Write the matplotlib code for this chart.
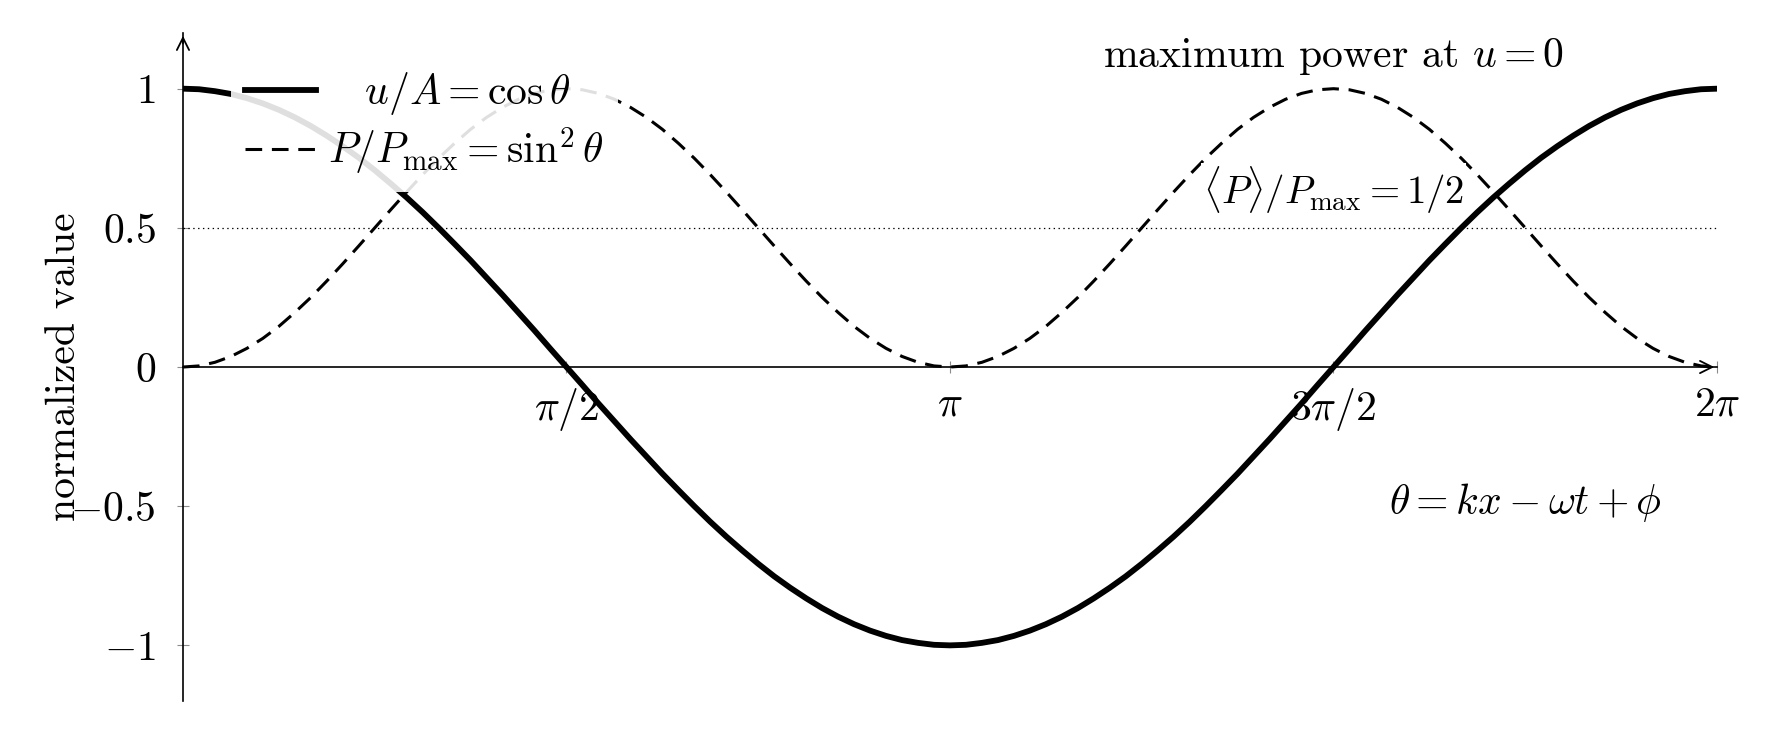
import matplotlib
matplotlib.use("Agg")
import matplotlib.pyplot as plt
import numpy as np

plt.rcParams['font.family'] = 'serif'
plt.rcParams['font.serif'] = ['cmr10']
plt.rcParams['mathtext.fontset'] = 'cm'
plt.rcParams['axes.formatter.use_mathtext'] = True
plt.rcParams['lines.scale_dashes'] = False

# phase samples, one every pi/48 from 0 to 2pi
steps = np.arange(97)
theta = steps * np.pi / 48

u_over_A = [1.000, 0.998, 0.991, 0.981, 0.966, 0.947, 0.924, 0.897, 0.866, 0.831,
            0.793, 0.752, 0.707, 0.659, 0.609, 0.556, 0.500, 0.442, 0.383, 0.321,
            0.259, 0.195, 0.131, 0.065, 0.000,
            -0.065, -0.131, -0.195, -0.259, -0.321, -0.383, -0.442, -0.500, -0.556,
            -0.609, -0.659, -0.707, -0.752, -0.793, -0.831, -0.866, -0.897, -0.924,
            -0.947, -0.966, -0.981, -0.991, -0.998, -1.000,
            -0.998, -0.991, -0.981, -0.966, -0.947, -0.924, -0.897, -0.866, -0.831,
            -0.793, -0.752, -0.707, -0.659, -0.609, -0.556, -0.500, -0.442, -0.383,
            -0.321, -0.259, -0.195, -0.131, -0.065, 0.000,
            0.065, 0.131, 0.195, 0.259, 0.321, 0.383, 0.442, 0.500, 0.556, 0.609,
            0.659, 0.707, 0.752, 0.793, 0.831, 0.866, 0.897, 0.924, 0.947, 0.966,
            0.981, 0.991, 0.998, 1.000]

# P/Pmax
p_over_pmax = [0.000, 0.004, 0.017, 0.038, 0.067, 0.103, 0.146, 0.196, 0.250, 0.309,
               0.371, 0.435, 0.500, 0.565, 0.629, 0.691, 0.750, 0.804, 0.854, 0.897,
               0.933, 0.962, 0.983, 0.996, 1.000,
               0.996, 0.983, 0.962, 0.933, 0.897, 0.854, 0.804, 0.750, 0.691, 0.629,
               0.565, 0.500, 0.435, 0.371, 0.309, 0.250, 0.196, 0.146, 0.103, 0.067,
               0.038, 0.017, 0.004, 0.000,
               0.004, 0.017, 0.038, 0.067, 0.103, 0.146, 0.196, 0.250, 0.309, 0.371,
               0.435, 0.500, 0.565, 0.629, 0.691, 0.750, 0.804, 0.854, 0.897, 0.933,
               0.962, 0.983, 0.996, 1.000,
               0.996, 0.983, 0.962, 0.933, 0.897, 0.854, 0.804, 0.750, 0.691, 0.629,
               0.565, 0.500, 0.435, 0.371, 0.309, 0.250, 0.196, 0.146, 0.103, 0.067,
               0.038, 0.017, 0.004, 0.000]

mean_power = 0.5

xtick_vals = [np.pi / 2, np.pi, 3 * np.pi / 2, 2 * np.pi]
xtick_labels = [r'$\pi/2$', r'$\pi$', r'$3\pi/2$', r'$2\pi$']
ytick_vals = [-1, -0.5, 0, 0.5, 1]
ytick_labels = [r'$-1$', r'$-0.5$', r'$0$', r'$0.5$', r'$1$']

fs = 30

fig = plt.figure(figsize=(17.8, 7.32), dpi=100)
ax = fig.add_axes([0.1028, 0.0423, 0.8618, 0.9126])

ax.plot(theta, u_over_A, color='black', lw=4.2, solid_joinstyle='round',
        zorder=3, label=r'$\quad u/A = \cos\theta\quad$')
ax.plot(theta, p_over_pmax, color='black', lw=2.2, ls=(0, (12, 7)),
        zorder=3, label=r'$P/P_{\max} = \sin^2\theta$')
ax.axhline(mean_power, color='black', lw=0.9, ls=(0, (1, 2.5)), zorder=2)

ax.set_xlim(0, 2 * np.pi)
ax.set_ylim(-1.2, 1.2)

# axis lines through the origin
ax.spines['left'].set_position(('data', 0))
ax.spines['bottom'].set_position(('data', 0))
ax.spines['top'].set_visible(False)
ax.spines['right'].set_visible(False)
ax.spines['left'].set_linewidth(1.2)
ax.spines['bottom'].set_linewidth(1.2)

ax.annotate('', xy=(1, 0), xycoords=('axes fraction', 'data'),
            xytext=(0.99, 0), textcoords=('axes fraction', 'data'),
            arrowprops=dict(arrowstyle='->', lw=1.3, color='black', mutation_scale=22),
            annotation_clip=False)
ax.annotate('', xy=(0, 1), xycoords=('data', 'axes fraction'),
            xytext=(0, 0.98), textcoords=('data', 'axes fraction'),
            arrowprops=dict(arrowstyle='->', lw=1.3, color='black', mutation_scale=22),
            annotation_clip=False)

ax.set_xticks(xtick_vals)
ax.set_xticklabels(xtick_labels)
ax.set_yticks(ytick_vals)
ax.set_yticklabels(ytick_labels)
ax.tick_params(direction='inout', length=9, width=0.8, color='0.55', labelsize=fs)
ax.tick_params(axis='y', pad=15)
ax.tick_params(axis='x', pad=9)

ax.set_ylabel('normalized value', fontsize=fs)
ax.yaxis.set_label_coords(-0.065, 0.5)

ax.legend(loc='upper left', bbox_to_anchor=(0.031, 0.966), fontsize=fs,
          frameon=True, fancybox=False, facecolor='white', edgecolor='none',
          framealpha=0.88, handlelength=1.7, handletextpad=0.28,
          labelspacing=0.2, borderpad=0.35, borderaxespad=0)

ax.text(3 * np.pi / 2, 1.115, r'maximum power at $u = 0$', ha='center', va='center', fontsize=fs)
ax.text(3 * np.pi / 2, 0.635, r'$\langle P\rangle/P_{\max} = 1/2$', ha='center', va='center',
        fontsize=28, bbox=dict(fc='white', ec='none', pad=1), zorder=4)
ax.text(7 * np.pi / 4, -0.485, r'$\theta = kx - \omega t + \phi$', ha='center', va='center', fontsize=fs)

fig.savefig('out.png', dpi=100)
